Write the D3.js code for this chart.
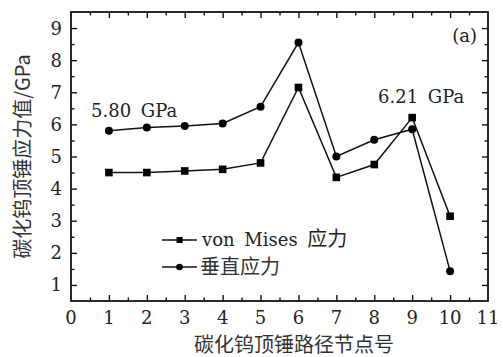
<!DOCTYPE html>
<html>
<head>
<meta charset="utf-8">
<script src="https://cdn.jsdelivr.net/npm/d3@7"></script>
<style>
  html, body { margin: 0; padding: 0; background: #fff; }
  svg { display: block; }
</style>
</head>
<body>
<svg id="chart" width="503" height="357"></svg>
<script>
// Node index along the anvil path
const nodes = [1, 2, 3, 4, 5, 6, 7, 8, 9, 10];
// von Mises stress (GPa)
const vonMises = [4.50, 4.50, 4.55, 4.60, 4.80, 7.15, 4.35, 4.75, 6.21, 3.14];
// Vertical stress (GPa)
const vertical = [5.80, 5.90, 5.95, 6.03, 6.55, 8.55, 5.00, 5.52, 5.85, 1.43];
const xTicks = [0, 1, 2, 3, 4, 5, 6, 7, 8, 9, 10, 11];
const yTicks = [1, 2, 3, 4, 5, 6, 7, 8, 9];
const seriesNames = ["von Mises 应力", "垂直应力"];

const SERIF = "'DejaVu Serif', 'Liberation Serif', serif";
const CJK = "'Noto Sans CJK SC', sans-serif";

const svg = d3.select("#chart");
const m = { left: 71, right: 488, top: 12, bottom: 301 };

const x = d3.scaleLinear().domain([0, 11]).range([m.left, m.right]);
const y = d3.scaleLinear().domain([0.5, 9.5]).range([m.bottom, m.top]);

const minorX = d3.range(0.5, 11, 1);
const minorY = d3.range(1.5, 9.5, 1);

// Ticks pointing inward on all four sides
function tickAxis(axisFn, scale, values, size, transform) {
  const g = svg.append("g").attr("transform", transform)
    .call(axisFn(scale).tickValues(values).tickSize(size).tickFormat(""));
  g.select(".domain").remove();
  g.selectAll("line").attr("stroke", "#111").attr("stroke-width", 1.4);
  return g;
}
tickAxis(d3.axisTop, x, xTicks.slice(1, -1), 6, `translate(0,${m.bottom})`);
tickAxis(d3.axisTop, x, minorX, 3.5, `translate(0,${m.bottom})`);
tickAxis(d3.axisBottom, x, xTicks.slice(1, -1), 6, `translate(0,${m.top})`);
tickAxis(d3.axisBottom, x, minorX, 3.5, `translate(0,${m.top})`);
tickAxis(d3.axisRight, y, yTicks, 6, `translate(${m.left},0)`);
tickAxis(d3.axisRight, y, minorY, 3.5, `translate(${m.left},0)`);
tickAxis(d3.axisLeft, y, yTicks, 6, `translate(${m.right},0)`);
tickAxis(d3.axisLeft, y, minorY, 3.5, `translate(${m.right},0)`);

// Frame
svg.append("rect")
  .attr("x", m.left).attr("y", m.top)
  .attr("width", m.right - m.left).attr("height", m.bottom - m.top)
  .attr("fill", "none").attr("stroke", "#111").attr("stroke-width", 1.8);

// Tick labels
svg.append("g").selectAll("text").data(xTicks).join("text")
  .attr("font-family", SERIF).attr("fill", "#222")
  .attr("x", d => x(d)).attr("y", m.bottom + 23)
  .attr("text-anchor", "middle").attr("font-size", 18)
  .text(d => d);
svg.append("g").selectAll("text").data(yTicks).join("text")
  .attr("font-family", SERIF).attr("fill", "#222")
  .attr("x", m.left - 9).attr("y", d => y(d)).attr("dy", "0.36em")
  .attr("text-anchor", "end").attr("font-size", 18)
  .text(d => d);

// Axis titles
svg.append("text").attr("font-family", CJK).attr("fill", "#333")
  .attr("x", 294).attr("y", 352).attr("text-anchor", "middle")
  .attr("font-size", 20).text("碳化钨顶锤路径节点号");
svg.append("text").attr("font-family", CJK).attr("fill", "#333")
  .attr("transform", `translate(30,${(m.top + m.bottom) / 2}) rotate(-90)`)
  .attr("text-anchor", "middle").attr("font-size", 20)
  .text("碳化钨顶锤应力值/GPa");

// Series
const line = d3.line().x((d, i) => x(nodes[i])).y(d => y(d));
const plot = svg.append("g");
[vonMises, vertical].forEach(vals => {
  plot.append("path").datum(vals).attr("d", line)
    .attr("fill", "none").attr("stroke", "#111").attr("stroke-width", 1.5);
});
plot.append("g").selectAll("rect").data(vonMises).join("rect")
  .attr("x", (d, i) => x(nodes[i]) - 3.8).attr("y", d => y(d) - 3.8)
  .attr("width", 7.6).attr("height", 7.6).attr("fill", "#000");
plot.append("g").selectAll("circle").data(vertical).join("circle")
  .attr("cx", (d, i) => x(nodes[i])).attr("cy", d => y(d))
  .attr("r", 4).attr("fill", "#000");

// Value annotations
svg.append("text").attr("font-family", SERIF).attr("fill", "#222").attr("font-size", 18)
  .attr("x", 91).attr("y", 117).attr("word-spacing", 4)
  .text(`${vertical[0].toFixed(2)} GPa`);
svg.append("text").attr("font-family", SERIF).attr("fill", "#222").attr("font-size", 18)
  .attr("x", 378).attr("y", 103).attr("word-spacing", 4)
  .text(`${vonMises[8].toFixed(2)} GPa`);
svg.append("text").attr("font-family", SERIF).attr("fill", "#222").attr("font-size", 18)
  .attr("x", 477).attr("y", 42).attr("text-anchor", "end")
  .text("(a)");

// Legend
const legend = svg.append("g");
const lx0 = 162, lx1 = 197;
[240, 267].forEach((ly, i) => {
  legend.append("line").attr("x1", lx0).attr("x2", lx1).attr("y1", ly).attr("y2", ly)
    .attr("stroke", "#111").attr("stroke-width", 1.5);
  if (i === 0) {
    legend.append("rect").attr("x", (lx0 + lx1) / 2 - 3).attr("y", ly - 3)
      .attr("width", 6).attr("height", 6).attr("fill", "#000");
  } else {
    legend.append("circle").attr("cx", (lx0 + lx1) / 2).attr("cy", ly)
      .attr("r", 3.3).attr("fill", "#000");
  }
});
const t1 = legend.append("text").attr("x", 202).attr("y", 240).attr("dy", "0.35em")
  .attr("fill", "#222");
t1.append("tspan").attr("font-family", SERIF).attr("font-size", 18)
  .attr("word-spacing", 4).text("von Mises ");
t1.append("tspan").attr("font-family", CJK).attr("font-size", 20).text("应力");
legend.append("text").attr("font-family", CJK).attr("fill", "#333")
  .attr("x", 200).attr("y", 267).attr("dy", "0.35em")
  .attr("font-size", 20).text(seriesNames[1]);
</script>
</body>
</html>
